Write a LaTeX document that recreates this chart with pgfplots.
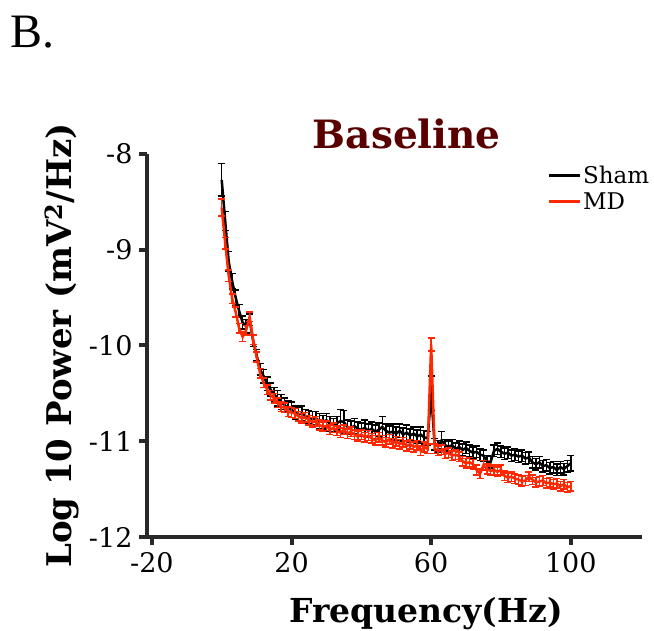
\documentclass[border=0pt]{standalone}
\usepackage{pgfplots}
\pgfplotsset{compat=1.18}
\usepackage{pgfplotstable}
\usepackage{fontspec}
\setmainfont{DejaVu Serif}
\newfontfamily\timesf{Liberation Serif}
\definecolor{mdred}{RGB}{255,40,0}
\definecolor{ttl}{RGB}{90,0,0}
\definecolor{axc}{RGB}{40,40,40}

\pgfplotstableread{
f y e
0 -8.27 0.17
1 -8.70 0.10
2 -9.12 0.10
3 -9.33 0.08
4 -9.50 0.08
5 -9.64 0.07
6 -9.76 0.07
7 -9.80 0.07
8 -9.73 0.06
9 -9.95 0.06
10 -10.10 0.06
11 -10.25 0.06
12 -10.32 0.07
13 -10.40 0.07
14 -10.46 0.07
15 -10.51 0.07
16 -10.55 0.08
17 -10.59 0.08
18 -10.62 0.07
19 -10.66 0.08
20 -10.67 0.08
21 -10.70 0.07
22 -10.72 0.07
23 -10.71 0.08
24 -10.74 0.07
25 -10.75 0.07
26 -10.77 0.08
27 -10.76 0.07
28 -10.79 0.08
29 -10.80 0.07
30 -10.78 0.07
31 -10.82 0.08
32 -10.83 0.07
33 -10.81 0.07
34 -10.79 0.12
35 -10.80 0.12
36 -10.85 0.07
37 -10.86 0.07
38 -10.84 0.08
39 -10.87 0.07
40 -10.88 0.07
41 -10.86 0.08
42 -10.89 0.07
43 -10.87 0.07
44 -10.90 0.07
45 -10.88 0.07
46 -10.85 0.11
47 -10.89 0.07
48 -10.91 0.07
49 -10.90 0.08
50 -10.92 0.07
51 -10.89 0.07
52 -10.93 0.07
53 -10.91 0.08
54 -10.94 0.07
55 -10.92 0.07
56 -10.95 0.07
57 -10.93 0.08
58 -10.96 0.07
59 -10.97 0.07
60 -10.50 0.18
61 -11.03 0.06
62 -11.05 0.06
63 -10.99 0.09
64 -11.04 0.06
65 -11.06 0.06
66 -11.04 0.06
67 -11.08 0.06
68 -11.06 0.06
69 -11.09 0.06
70 -11.07 0.06
71 -11.10 0.06
72 -11.12 0.06
73 -11.11 0.06
74 -11.14 0.06
75 -11.15 0.06
76 -11.21 0.06
77 -11.22 0.06
78 -11.10 0.06
79 -11.08 0.06
80 -11.11 0.06
81 -11.13 0.06
82 -11.12 0.06
83 -11.15 0.06
84 -11.14 0.06
85 -11.16 0.06
86 -11.15 0.06
87 -11.18 0.06
88 -11.17 0.06
89 -11.22 0.06
90 -11.24 0.06
91 -11.22 0.06
92 -11.26 0.06
93 -11.25 0.06
94 -11.28 0.06
95 -11.27 0.06
96 -11.30 0.06
97 -11.27 0.06
98 -11.29 0.06
99 -11.26 0.06
100 -11.23 0.08
}\sham

\pgfplotstableread{
f y e
0 -8.56 0.09
1 -8.93 0.06
2 -9.27 0.06
3 -9.51 0.05
4 -9.65 0.05
5 -9.82 0.05
6 -9.91 0.05
7 -9.84 0.05
8 -9.70 0.05
9 -9.94 0.05
10 -10.12 0.05
11 -10.29 0.05
12 -10.39 0.05
13 -10.46 0.05
14 -10.52 0.05
15 -10.55 0.05
16 -10.60 0.05
17 -10.64 0.05
18 -10.65 0.05
19 -10.69 0.05
20 -10.70 0.05
21 -10.71 0.05
22 -10.74 0.05
23 -10.76 0.05
24 -10.75 0.05
25 -10.78 0.05
26 -10.80 0.05
27 -10.79 0.05
28 -10.83 0.05
29 -10.85 0.05
30 -10.84 0.05
31 -10.88 0.05
32 -10.86 0.05
33 -10.89 0.05
34 -10.91 0.05
35 -10.88 0.05
36 -10.92 0.05
37 -10.90 0.05
38 -10.93 0.05
39 -10.95 0.05
40 -10.93 0.05
41 -10.96 0.05
42 -10.94 0.05
43 -10.97 0.05
44 -10.99 0.05
45 -10.96 0.05
46 -10.99 0.05
47 -11.01 0.05
48 -10.98 0.05
49 -11.02 0.05
50 -11.00 0.05
51 -11.03 0.05
52 -11.01 0.05
53 -11.05 0.05
54 -11.03 0.05
55 -11.06 0.05
56 -11.04 0.05
57 -11.10 0.05
58 -11.06 0.05
59 -11.08 0.05
60 -9.99 0.07
61 -11.08 0.05
62 -11.10 0.05
63 -11.09 0.05
64 -11.13 0.05
65 -11.12 0.05
66 -11.15 0.05
67 -11.14 0.05
68 -11.16 0.05
69 -11.21 0.05
70 -11.23 0.05
71 -11.22 0.05
72 -11.24 0.05
73 -11.30 0.05
74 -11.34 0.05
75 -11.25 0.05
76 -11.29 0.05
77 -11.31 0.05
78 -11.30 0.05
79 -11.32 0.05
80 -11.30 0.05
81 -11.36 0.05
82 -11.38 0.05
83 -11.37 0.05
84 -11.39 0.05
85 -11.40 0.05
86 -11.42 0.05
87 -11.41 0.05
88 -11.37 0.05
89 -11.40 0.05
90 -11.43 0.05
91 -11.42 0.05
92 -11.41 0.05
93 -11.44 0.05
94 -11.43 0.05
95 -11.45 0.05
96 -11.44 0.05
97 -11.47 0.05
98 -11.45 0.05
99 -11.48 0.05
100 -11.47 0.05
}\md

\begin{document}
\begin{tikzpicture}
\begin{axis}[
  scale only axis, width=495pt, height=383pt,
  xmin=-21.4, xmax=120.4, ymin=-12, ymax=-8,
  axis lines=left,
  axis line style={-, line width=4pt, color=axc},
  xtick={-20,20,60,100}, ytick={-12,-11,-10,-9,-8},
  tick align=outside, major tick length=8pt,
  tick style={line width=4pt, color=axc},
  minor tick num=0,
  /pgf/number format/assume math mode=true,
  xticklabel style={font=\fontsize{27}{27}\selectfont, yshift=-4pt},
  yticklabel style={font=\fontsize{27}{27}\selectfont, xshift=-3pt},
  xlabel={Frequency(Hz)},
  ylabel={Log 10 Power (mV\textsuperscript{2}/Hz)},
  xlabel style={at={(rel axis cs:0.564,-0.2245)}, anchor=base, font=\bfseries\fontsize{33}{33}\selectfont},
  ylabel style={at={(rel axis cs:-0.172,0.5)}, anchor=center, font=\bfseries\fontsize{34}{34}\selectfont},
  clip=false,
  legend style={at={(rel axis cs:0.808,0.975)}, anchor=north west, draw=none, fill=none, inner sep=0pt,
    font=\fontsize{23}{23}\selectfont, row sep=4pt},
  legend cell align=left,
  legend image code/.code={\draw[#1, line width=3pt] (0pt,0pt) -- (31pt,0pt);},
]
\addplot[black, line width=2.5pt, mark=none,
  error bars/.cd, y dir=both, y explicit,
  error bar style={line width=1.5pt, black},
  error mark options={rotate=90, line width=1.5pt, mark size=3.5pt, black}]
  table[x=f, y=y, y error=e] {\sham};
\addlegendentry{Sham}
\addplot[mdred, line width=2.5pt, mark=none,
  error bars/.cd, y dir=both, y explicit,
  error bar style={line width=1.5pt, mdred},
  error mark options={rotate=90, line width=1.5pt, mark size=3.5pt, mdred}]
  table[x=f, y=y, y error=e] {\md};
\addlegendentry{MD}
\node[anchor=base, inner sep=0pt, text=ttl, font=\bfseries\fontsize{39}{39}\selectfont] at (rel axis cs:0.525,1.0131) {Baseline};
\node[anchor=base west, inner sep=0pt, font=\timesf\fontsize{48}{48}\selectfont] at (rel axis cs:-0.2768,1.2768) {B.};
\coordinate (BBbl) at (rel axis cs:-0.29697,-0.24543);
\coordinate (BBtr) at (rel axis cs:1.02424,1.40209);
\end{axis}
\pgfresetboundingbox
\path[use as bounding box] (BBbl) rectangle (BBtr);
\end{tikzpicture}
\end{document}
